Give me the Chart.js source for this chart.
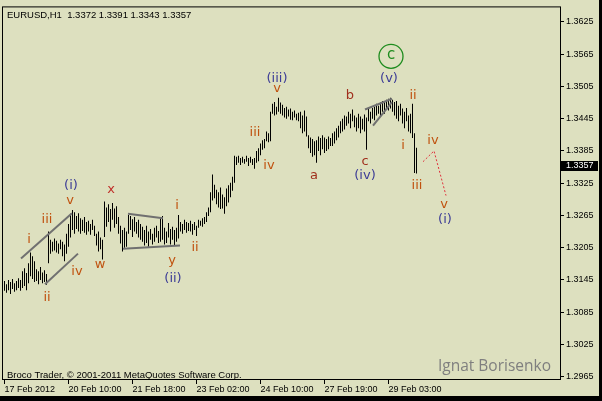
<!DOCTYPE html>
<html>
<head>
<meta charset="utf-8">
<script src="https://cdn.jsdelivr.net/npm/chart.js@4.4.1/dist/chart.umd.min.js"></script>
<style>
html,body{margin:0;padding:0;background:#000;}
canvas{display:block;}
</style>
</head>
<body>
<canvas id="c" width="602" height="401"></canvas>
<script>
// ---- data (EURUSD H1, bar index 0 = 17 Feb 2012) ----
const highs = [
1.3143,1.3137,1.3145,1.3141,1.3147,1.3139,1.3143,1.3148,1.3145,1.3161,
1.3167,1.3158,1.3176,1.3196,1.3189,1.3180,1.3165,1.3161,1.3169,1.3159,
1.3163,1.3156,1.3235,1.3220,1.3216,1.3222,1.3218,1.3213,1.3220,1.3216,
1.3211,1.3231,1.3249,1.3268,1.3275,1.3271,1.3264,1.3269,1.3260,1.3257,
1.3262,1.3253,1.3255,1.3249,1.3257,1.3246,1.3231,1.3235,1.3224,1.3220,
1.3291,1.3280,1.3286,1.3277,1.3288,1.3278,1.3282,1.3262,1.3246,1.3238,
1.3242,1.3235,1.3266,1.3264,1.3258,1.3262,1.3253,1.3257,1.3249,1.3244,
1.3238,1.3246,1.3235,1.3240,1.3231,1.3242,1.3246,1.3236,1.3262,1.3264,
1.3242,1.3235,1.3251,1.3240,1.3244,1.3238,1.3242,1.3266,1.3253,1.3249,
1.3257,1.3253,1.3251,1.3255,1.3249,1.3253,1.3246,1.3257,1.3255,1.3260,
1.3262,1.3271,1.3280,1.3308,1.3341,1.3322,1.3313,1.3308,1.3317,1.3304,
1.3299,1.3315,1.3321,1.3326,1.3337,1.3376,1.3374,1.3376,1.3372,1.3374,
1.3370,1.3376,1.3372,1.3374,1.3370,1.3372,1.3385,1.3390,1.3399,1.3405,
1.3407,1.3421,1.3418,1.3458,1.3473,1.3476,1.3467,1.3484,1.3475,1.3471,
1.3465,1.3467,1.3462,1.3464,1.3458,1.3460,1.3454,1.3456,1.3458,1.3451,
1.3460,1.3449,1.3414,1.3410,1.3407,1.3403,1.3405,1.3412,1.3409,1.3414,
1.3410,1.3407,1.3412,1.3409,1.3418,1.3421,1.3427,1.3432,1.3440,1.3445,
1.3451,1.3449,1.3458,1.3454,1.3462,1.3451,1.3447,1.3454,1.3449,1.3445,
1.3453,1.3447,1.3464,1.3458,1.3465,1.3467,1.3473,1.3469,1.3475,1.3478,
1.3476,1.3480,1.3482,1.3484,1.3480,1.3476,1.3478,1.3469,1.3473,1.3464,
1.3458,1.3465,1.3451,1.3454,1.3473,1.3418,1.3391
];
const lows = [
1.3125,1.3121,1.3126,1.3119,1.3128,1.3123,1.3126,1.3130,1.3125,1.3130,
1.3134,1.3126,1.3139,1.3152,1.3147,1.3141,1.3143,1.3137,1.3145,1.3139,
1.3141,1.3136,1.3176,1.3194,1.3198,1.3200,1.3196,1.3194,1.3202,1.3189,
1.3180,1.3194,1.3207,1.3224,1.3238,1.3231,1.3240,1.3235,1.3231,1.3236,
1.3233,1.3229,1.3235,1.3229,1.3238,1.3227,1.3209,1.3198,1.3202,1.3183,
1.3225,1.3244,1.3253,1.3235,1.3257,1.3242,1.3249,1.3231,1.3213,1.3198,
1.3205,1.3207,1.3231,1.3238,1.3225,1.3235,1.3231,1.3224,1.3220,1.3216,
1.3209,1.3214,1.3207,1.3220,1.3211,1.3216,1.3224,1.3214,1.3216,1.3220,
1.3211,1.3214,1.3224,1.3211,1.3220,1.3209,1.3216,1.3222,1.3235,1.3231,
1.3238,1.3233,1.3236,1.3235,1.3229,1.3238,1.3227,1.3242,1.3246,1.3244,
1.3249,1.3253,1.3264,1.3271,1.3293,1.3297,1.3286,1.3280,1.3277,1.3278,
1.3268,1.3282,1.3289,1.3299,1.3311,1.3326,1.3359,1.3363,1.3359,1.3363,
1.3361,1.3365,1.3357,1.3363,1.3359,1.3352,1.3363,1.3366,1.3377,1.3387,
1.3390,1.3403,1.3401,1.3403,1.3454,1.3451,1.3453,1.3458,1.3454,1.3451,
1.3447,1.3445,1.3449,1.3443,1.3442,1.3447,1.3442,1.3440,1.3427,1.3418,
1.3421,1.3412,1.3390,1.3381,1.3374,1.3377,1.3363,1.3385,1.3377,1.3388,
1.3381,1.3385,1.3388,1.3394,1.3394,1.3399,1.3405,1.3410,1.3418,1.3421,
1.3425,1.3432,1.3436,1.3427,1.3440,1.3429,1.3421,1.3427,1.3418,1.3425,
1.3421,1.3387,1.3440,1.3436,1.3445,1.3442,1.3451,1.3454,1.3449,1.3458,
1.3454,1.3462,1.3460,1.3464,1.3458,1.3451,1.3445,1.3440,1.3451,1.3436,
1.3427,1.3440,1.3421,1.3418,1.3409,1.3344,1.3343
];
const lastOpen = 1.3372;
const lastClose = 1.3357;

const timeTickIdx = [0, 32, 64, 96, 128, 160, 192];
const timeTickLabels = ["17 Feb 2012","20 Feb 10:00","21 Feb 18:00","23 Feb 02:00","24 Feb 10:00","27 Feb 19:00","29 Feb 03:00"];
const priceTicks = [1.2965,1.3025,1.3085,1.3145,1.3205,1.3265,1.3325,1.3385,1.3445,1.3505,1.3565,1.3625];

// wave labels: [text, bar index, price, colour group]
const waveLabels = [
  ["i",12.25,1.3220,"o"],["iii",21.25,1.3257,"o"],["v",32.75,1.3293,"o"],["(i)",33.25,1.3321,"b"],
  ["iv",36.25,1.3161,"o"],["ii",21.25,1.3112,"o"],
  ["x",53.25,1.3313,"r"],["w",47.75,1.3174,"o"],
  ["i",86.25,1.3284,"o"],["ii",95.25,1.3205,"o"],["y",83.75,1.3181,"o"],["(ii)",84.25,1.3147,"b"],
  ["iii",125.25,1.3420,"o"],["iv",132.25,1.3357,"o"],["(iii)",136.25,1.3520,"b"],["v",136.25,1.3500,"o"],
  ["a",154.75,1.3339,"d"],["b",172.75,1.3487,"d"],["c",180.25,1.3366,"d"],["(iv)",180.25,1.3339,"b"],
  ["(v)",192.25,1.3519,"b"],["ii",204.25,1.3487,"o"],["i",199.25,1.3394,"o"],["iii",206.25,1.3321,"o"],
  ["iv",214.25,1.3405,"o"],["v",219.75,1.3286,"o"],["(i)",220.25,1.3257,"b"]
];
const circleLabel = ["c",193.25,1.3561];

// drawn trend lines (bar index, price)
const chanUpper = [{x:8.25,y:1.3185},{x:33.75,y:1.3269}];
const chanLower = [{x:20.25,y:1.3137},{x:36.75,y:1.3194}];
const triUpper  = [{x:61.75,y:1.3268},{x:79.25,y:1.3260}];
const triLower  = [{x:59.25,y:1.3203},{x:87.75,y:1.3209}];
const wedgeUpper= [{x:180.25,y:1.3462},{x:193.75,y:1.3482}];
const wedgeLower= [{x:184.25,y:1.3432},{x:193.75,y:1.3476}];
const forecast  = [{x:209.25,y:1.3365},{x:214.75,y:1.3385},{x:220.75,y:1.3302}];

// ---- styling ----
const BG = "rgb(221,224,191)";
const COLORS = {o:"#C0520F", r:"#C0302A", d:"#A0301E", b:"#3C3C96"};
const SMALL = "9px 'Liberation Sans', Arial, sans-serif";

const barData = highs.map((h,i)=>({x:i, y:[lows[i], h]}));

function trend(data, color, width, dash){
  return {type:'line', data, borderColor:color, borderWidth:width, borderDash:dash||[],
          pointRadius:0, fill:false, tension:0, order:0};
}

const annot = {
  id:'annot',
  beforeDraw(c){
    const ctx=c.ctx; ctx.save();
    ctx.fillStyle=BG; ctx.fillRect(0,0,c.width,c.height);
    ctx.restore();
  },
  afterDatasetsDraw(c){
    const ctx=c.ctx, xs=c.scales.x, ys=c.scales.y, a=c.chartArea;
    ctx.save();
    // frame
    ctx.strokeStyle="#000"; ctx.lineWidth=1;
    ctx.strokeRect(a.left-0.5, a.top-0.5, a.right-a.left+1, a.bottom-a.top+1);
    // wave labels
    ctx.font="13px 'DejaVu Sans', sans-serif";
    ctx.textAlign="center"; ctx.textBaseline="middle";
    waveLabels.forEach(([t,i,p,g])=>{
      ctx.fillStyle=COLORS[g];
      ctx.fillText(t, xs.getPixelForValue(i), ys.getPixelForValue(p));
    });
    // circled c
    const cx=xs.getPixelForValue(circleLabel[1]), cy=ys.getPixelForValue(circleLabel[2]);
    ctx.strokeStyle="#1E8C1E"; ctx.lineWidth=1.3;
    ctx.beginPath(); ctx.arc(cx,cy,12,0,Math.PI*2); ctx.stroke();
    ctx.fillStyle="#1E8C1E"; ctx.font="15px 'DejaVu Sans', sans-serif";
    ctx.fillText(circleLabel[0], cx, cy-1);
    // texts
    ctx.textAlign="left"; ctx.fillStyle="#000";
    ctx.font="9.5px 'Liberation Sans', Arial, sans-serif";
    ctx.fillText("EURUSD,H1  "+lastOpen.toFixed(4)+" "+highs[highs.length-1].toFixed(4)+" "+lows[lows.length-1].toFixed(4)+" "+lastClose.toFixed(4), a.left+4, a.top+8);
    ctx.fillText("Broco Trader, \u00A9 2001-2011 MetaQuotes Software Corp.", a.left+4, a.bottom-4);
    ctx.fillStyle="#7f7f7f"; ctx.textAlign="right";
    ctx.font="15.5px 'Open Sans', sans-serif";
    ctx.fillText("Ignat Borisenko", a.right-9, a.bottom-12);
    // last price box
    const ly=ys.getPixelForValue(lastClose);
    ctx.fillStyle="#000"; ctx.fillRect(a.right+1, Math.round(ly)-5, 37, 10);
    ctx.fillStyle="#fff"; ctx.textAlign="left"; ctx.font=SMALL;
    ctx.fillText(lastClose.toFixed(4), a.right+6, ly);
    // outer black edges
    ctx.fillStyle="#000";
    ctx.fillRect(0, c.height-5, c.width, 5);
    ctx.fillRect(c.width-3, 0, 3, c.height);
    ctx.restore();
  }
};

new Chart(document.getElementById('c'), {
  type:'bar',
  data:{datasets:[
    {type:'bar', data:barData, backgroundColor:"#000", borderWidth:0, barThickness:1, inflateAmount:0, grouped:false, order:1},
    trend(chanUpper,"#707070",2),
    trend(chanLower,"#707070",2),
    trend(triUpper,"#707070",2),
    trend(triLower,"#707070",2),
    trend(wedgeUpper,"#707070",2),
    trend(wedgeLower,"#707070",2),
    trend(forecast,"#E0303C",1,[2,2])
  ]},
  options:{
    responsive:false, animation:false, devicePixelRatio:1,
    layout:{padding:{left:3, top:3, right:0, bottom:0}},
    plugins:{legend:{display:false}, tooltip:{enabled:false}},
    scales:{
      x:{type:'linear', min:-0.75, max:277.75, offset:false,
         afterBuildTicks:s=>{s.ticks=timeTickIdx.map(v=>({value:v}));},
         afterFit:s=>{s.height=22;},
         grid:{drawOnChartArea:false, drawTicks:true, tickLength:5, color:"#000", offset:false},
         border:{display:false},
         ticks:{align:'start', padding:0, color:"#000", font:{family:"'Liberation Sans', Arial, sans-serif", size:9},
                maxRotation:0, autoSkip:false,
                callback:v=>{const k=timeTickIdx.indexOf(v); return k>=0?timeTickLabels[k]:"";}}},
      y:{position:'right', min:1.29608, max:1.36520, beginAtZero:false,
         afterBuildTicks:s=>{s.ticks=priceTicks.map(v=>({value:v}));},
         afterFit:s=>{s.width=42;},
         grid:{drawOnChartArea:false, drawTicks:true, tickLength:4, color:"#000"},
         border:{display:false},
         ticks:{padding:2, color:"#000", font:{family:"'Liberation Sans', Arial, sans-serif", size:9},
                callback:v=>v.toFixed(4)}}
    }
  },
  plugins:[annot]
});
</script>
</body>
</html>
